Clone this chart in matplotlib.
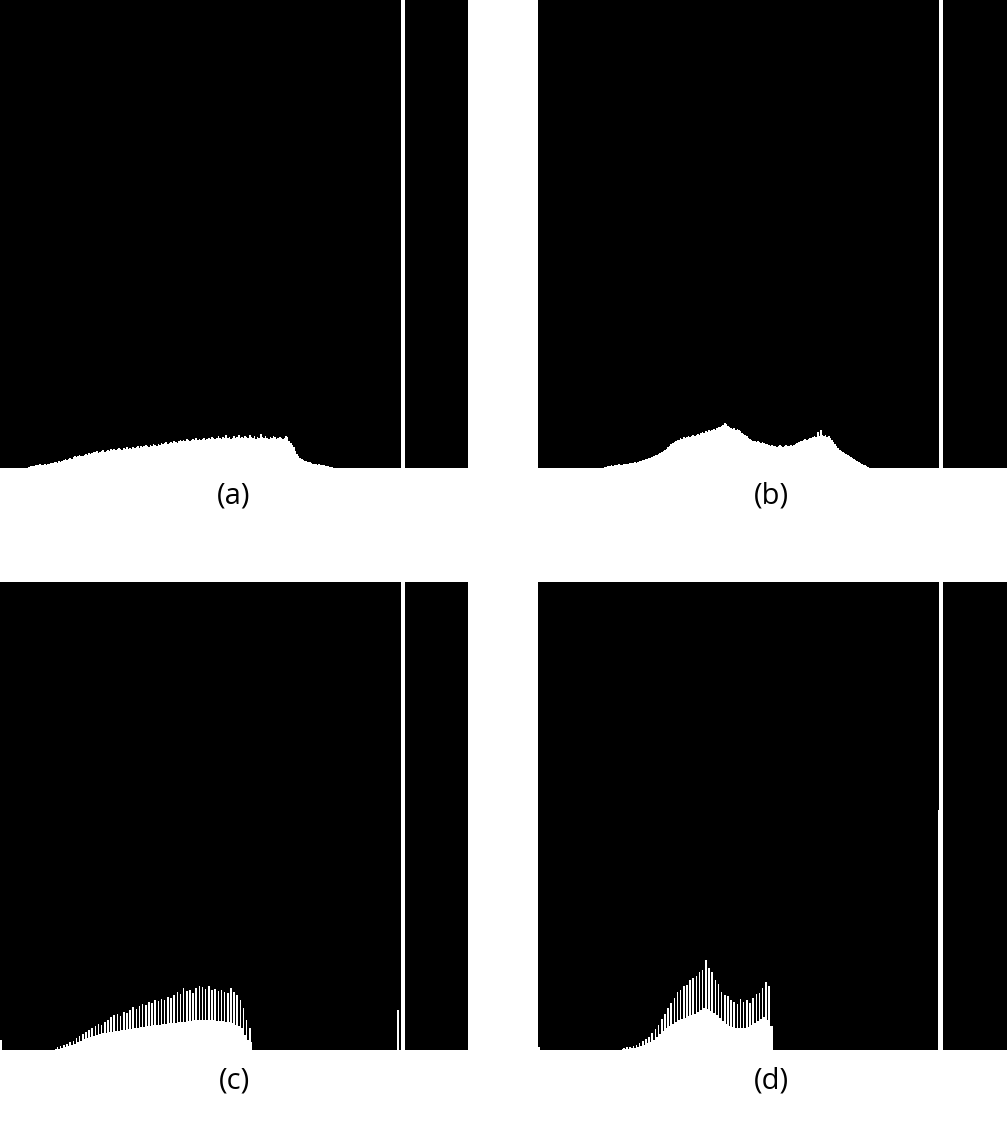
import matplotlib
matplotlib.use("Agg")
import matplotlib.pyplot as plt
import numpy as np

# ---------------- data (histogram counts, in display units) ----------------
N_BINS = 256
FULL = 2000  # saturated bin (exceeds axis range)

panel_labels = ["(a)", "(b)", "(c)", "(d)"]

# panel (a): bins starting at 18
a_start = 18
a_counts = [1, 2, 2, 2,
            3, 3, 3, 4, 3, 3, 4, 3, 4, 4, 5, 5,
            6, 6, 5, 7, 6, 7,
            8, 9, 8, 9, 10, 9, 11,
            12, 11, 12, 13, 12, 12, 13, 14, 13, 15, 14, 15,
            16, 16, 17, 15, 16, 17, 18, 16, 17, 18, 17, 19, 18,
            19, 18, 19, 20, 19, 18, 20, 19, 21, 19, 20, 19, 21, 20, 21, 22, 20,
            22, 21, 22, 23, 22, 21, 23, 22, 24, 23, 22, 24, 23,
            25, 24, 25, 26, 24, 25, 26, 25, 27, 26, 25, 27,
            28, 27, 28, 27, 29, 28, 27, 28, 29, 28, 30, 28, 29, 28, 29, 30, 28, 29,
            30, 29, 31, 30, 29, 30, 32, 30, 29, 31, 30, 33, 30, 31, 29, 30, 32, 30, 31, 33, 30, 31,
            30, 32, 31, 30, 33, 31, 30, 32, 29, 31, 30, 34, 31, 30, 32, 30, 29, 31, 30, 32, 31, 29,
            30, 31, 30, 29, 30, 32, 31,
            27, 25, 23, 21,
            17, 14, 12, 10, 9,
            8, 7, 7, 6, 6, 5,
            4, 4, 4, 3, 4, 3, 3, 3,
            2, 2, 2, 1, 1]
a_extra = {255: FULL}

# panel (b): bins starting at 42
b_start = 42
b_counts = [1, 1, 2, 2,
            3, 2, 3, 3, 3, 4, 3, 3, 4, 4, 4, 4,
            5, 5, 5, 6, 5, 6, 7, 7,
            8, 8, 9, 9, 10, 10, 11,
            12, 13, 13, 14, 15, 16,
            17, 18, 19, 21, 22,
            24, 25, 26, 27, 28, 28,
            30, 29, 31, 30, 31, 32, 31, 32, 33, 32, 33, 34, 33,
            35, 36, 35, 37, 36, 38, 37, 38, 39, 38, 40, 41,
            41, 42, 43, 45, 44, 42,
            41, 40, 39, 40, 38, 39, 38, 37,
            35, 34, 33, 32,
            30, 29, 28, 27, 27, 26, 27, 26, 25, 26, 25, 24, 24,
            23, 22, 23, 22, 22, 21, 22, 23, 22, 21, 22, 23, 22, 22, 23, 22, 23, 24, 25,
            26, 27, 27, 28, 29, 28, 29, 30, 30, 31,
            32, 31, 36, 32, 38, 33, 32, 33, 31, 32, 30,
            28, 26, 24, 22,
            20, 18, 17, 16, 15, 14,
            13, 12, 11, 10, 9, 8, 7, 6, 5,
            4, 3, 3, 2, 1]
b_extra = {255: FULL}

# panel (c): bins starting at 35 (alternating low / spike bins)
c_start = 35
c_counts = [1, 3, 1, 4, 2, 5, 3, 6, 4, 8, 5, 9, 6, 12, 8, 14, 9, 16, 11, 18,
            12, 20, 13, 22, 14, 24, 15, 26, 16, 25, 17, 28, 17, 30, 18, 33, 18, 35, 19, 36,
            19, 34, 20, 38, 20, 37, 21, 40, 21, 43, 22, 41, 22, 44, 23, 46, 23, 45, 24, 48,
            24, 47, 25, 50, 25, 49, 25, 51, 26, 50, 26, 53, 27, 52, 27, 55, 27, 58, 28, 56,
            28, 62, 28, 59, 29, 60, 29, 57, 30, 62, 30, 64, 30, 63, 30, 61, 30, 64, 30, 60,
            30, 61, 29, 59, 29, 60, 29, 58, 28, 57, 28, 62, 27, 58, 25, 55, 24, 50, 22, 42,
            15, 30, 10, 22, 8]
c_extra = {0: 10, 252: 40, 255: FULL}

# panel (d): bins starting at 53 (alternating low / spike bins)
d_start = 53
d_counts = [1, 2, 1, 3, 1, 3, 2, 4, 2, 5, 3, 7, 4, 9, 5, 11, 7, 13, 8, 17,
            10, 21, 13, 25, 16, 31, 19, 36, 22, 42, 24, 47, 26, 52, 28, 58, 30, 60, 31, 64,
            32, 65, 34, 70, 35, 72, 36, 74, 38, 78, 40, 80, 42, 90, 41, 82, 39, 78, 37, 70,
            35, 66, 32, 58, 29, 55, 26, 54, 24, 50, 23, 48, 22, 46, 22, 51, 22, 48, 22, 50,
            23, 47, 25, 52, 27, 56, 29, 57, 31, 62, 33, 68, 30, 64, 24, 24]
d_extra = {0: 3, 254: 240, 255: FULL}

panels = [(a_start, a_counts, a_extra),
          (b_start, b_counts, b_extra),
          (c_start, c_counts, c_extra),
          (d_start, d_counts, d_extra)]

# ---------------- figure ----------------
W, H = 1007, 1126
fig = plt.figure(figsize=(W / 100, H / 100), dpi=100)
fig.patch.set_facecolor("white")

# panel rectangles in pixels: (left, top, width, height)
rects = [(0, 0, 468, 468), (538, 0, 469, 468),
         (0, 582, 468, 468), (538, 582, 469, 468)]
label_pos = [(234, 496), (771, 496), (234, 1081), (771, 1081)]

for (start, counts, extra), (l, t, w, h), lab, (lx, ly) in zip(panels, rects, panel_labels, label_pos):
    ax = fig.add_axes([l / W, (H - t - h) / H, w / W, h / H])
    ax.set_facecolor("black")
    hist = np.zeros(N_BINS)
    hist[start:start + len(counts)] = counts
    for k, v in extra.items():
        hist[k] = v
    lws = [1.2 if v >= FULL else 0 for v in hist]
    ax.bar(np.arange(N_BINS), hist, width=1.0, align="edge",
           color="white", edgecolor="white", linewidth=lws, antialiased=False)
    ax.set_xlim(0, 256 * w / 403.5)
    ax.set_ylim(0, 468)
    ax.set_xticks([])
    ax.set_yticks([])
    for s in ax.spines.values():
        s.set_visible(False)
    fig.text(lx / W, 1 - ly / H, lab, ha="center", va="center",
             fontsize=21, family=["Open Sans", "DejaVu Sans"], color="black")

fig.savefig("out.png", dpi=100, facecolor="white")
